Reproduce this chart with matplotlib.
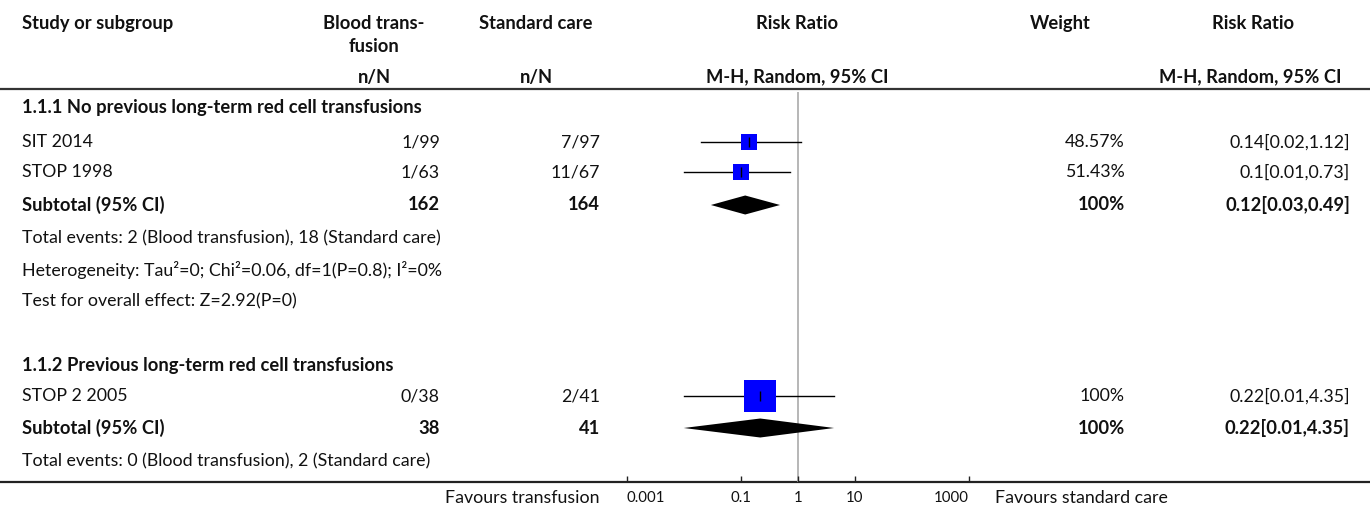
import matplotlib
matplotlib.use("Agg")
import matplotlib.pyplot as plt
from matplotlib.ticker import FixedLocator, FixedFormatter, NullLocator

plt.rcParams['font.family'] = ['Lato', 'DejaVu Sans']

# ---------------- data ----------------
group_titles = ["1.1.1 No previous long-term red cell transfusions",
                "1.1.2 Previous long-term red cell transfusions"]
studies = ["SIT 2014", "STOP 1998", "STOP 2 2005"]
bt_events = [1, 1, 0]
bt_total = [99, 63, 38]
sc_events = [7, 11, 2]
sc_total = [97, 67, 41]
rr = [0.14, 0.1, 0.22]
rr_lo = [0.02, 0.01, 0.01]
rr_hi = [1.12, 0.73, 4.35]
weights = [48.57, 51.43, 100]

sub_bt_total = [162, 38]
sub_sc_total = [164, 41]
sub_weight = [100, 100]
sub_rr = [0.12, 0.22]
sub_lo = [0.03, 0.01]
sub_hi = [0.49, 4.35]

group_notes = [
    ["Total events: 2 (Blood transfusion), 18 (Standard care)",
     "Heterogeneity: Tau\u00b2=0; Chi\u00b2=0.06, df=1(P=0.8); I\u00b2=0%",
     "Test for overall effect: Z=2.92(P=0)"],
    ["Total events: 0 (Blood transfusion), 2 (Standard care)"],
]

tick_values = [0.001, 0.1, 1, 10, 1000]
tick_labels = ["0.001", "0.1", "1", "10", "1000"]
x_min, x_max = 0.001, 1000

# ---------------- layout (pixels) ----------------
W, H = 1370, 509
FS = 12.8
FSB = 13.2
TXT = '#111111'
study_y = [142, 172, 396]
sub_y = [205, 428]
title_y = [107, 365]
notes_y = [[238, 270, 301], [461]]

fig = plt.figure(figsize=(W / 100, H / 100), dpi=100)
ax = fig.add_axes([0, 0, 1, 1])
ax.set_xlim(0, W)
ax.set_ylim(H, 0)
ax.axis('off')

axis_y = 481.7
top_y = 92
xl, xr = 626.7, 968.7
fx = fig.add_axes([xl / W, (H - axis_y) / H, (xr - xl) / W, (axis_y - top_y) / H])
fx.set_xscale('log')
fx.set_xlim(x_min, x_max)
fx.set_ylim(axis_y, top_y)
fx.patch.set_alpha(0)
for s in fx.spines.values():
    s.set_visible(False)
fx.yaxis.set_visible(False)
fx.xaxis.set_major_locator(FixedLocator(tick_values))
fx.xaxis.set_major_formatter(FixedFormatter(tick_labels))
fx.xaxis.set_minor_locator(NullLocator())
fx.tick_params(axis='x', direction='in', length=4.5, width=1, color='#222222',
               labelsize=10.8, pad=7, labelcolor=TXT)
fig.canvas.draw()
tls = fx.get_xticklabels()
tls[0].set_horizontalalignment('left')
tls[-1].set_horizontalalignment('right')

# header
def t(x, y, s, ha='left', bold=False):
    ax.text(x, y, s, ha=ha, va='center', fontsize=FSB if bold else FS, color=TXT,
            fontweight='bold' if bold else 'normal')

t(22, 23, "Study or subgroup", bold=True)
t(374, 23, "Blood trans-", ha='center', bold=True)
t(374, 46, "fusion", ha='center', bold=True)
t(374, 77, "n/N", ha='center', bold=True)
t(536, 23, "Standard care", ha='center', bold=True)
t(536, 77, "n/N", ha='center', bold=True)
t(797.5, 23, "Risk Ratio", ha='center', bold=True)
t(797.5, 77, "M-H, Random, 95% CI", ha='center', bold=True)
t(1060, 23, "Weight", ha='center', bold=True)
t(1253, 23, "Risk Ratio", ha='center', bold=True)
t(1342, 77, "M-H, Random, 95% CI", ha='right', bold=True)

ax.plot([0, W], [89, 89], color='#333333', lw=1.6, solid_capstyle='butt')
ax.plot([0, W], [axis_y, axis_y], color='#222222', lw=1.6, solid_capstyle='butt')

# reference line
fx.axvline(1, color='#aaaaaa', lw=1.2, zorder=1)

# group titles and notes
for g, title in enumerate(group_titles):
    t(22, title_y[g], title, bold=True)
    for note, ny in zip(group_notes[g], notes_y[g]):
        t(22, ny, note)

# studies
for i, name in enumerate(studies):
    y = study_y[i]
    t(22, y, name)
    t(440, y, f"{bt_events[i]}/{bt_total[i]}", ha='right')
    t(600, y, f"{sc_events[i]}/{sc_total[i]}", ha='right')
    t(1125, y, f"{weights[i]:g}%", ha='right')
    t(1350, y, f"{rr[i]:g}[{rr_lo[i]:g},{rr_hi[i]:g}]", ha='right')
    fx.plot([rr_lo[i], rr_hi[i]], [y, y], color='black', lw=1.0, zorder=3)
    side_px = 0.32 * weights[i]
    fx.plot([rr[i]], [y], marker='s', markersize=side_px * 0.72, color='#0000ff',
            markeredgewidth=0, linestyle='none', zorder=4)
    fx.plot([rr[i]], [y], marker='|', markersize=6.5, color='black',
            markeredgewidth=1.0, linestyle='none', zorder=5)

# subtotals
for g in range(len(sub_rr)):
    y = sub_y[g]
    t(22, y, "Subtotal (95% CI)", bold=True)
    t(440, y, f"{sub_bt_total[g]}", ha='right', bold=True)
    t(600, y, f"{sub_sc_total[g]}", ha='right', bold=True)
    t(1125, y, f"{sub_weight[g]:g}%", ha='right', bold=True)
    t(1350, y, f"{sub_rr[g]:g}[{sub_lo[g]:g},{sub_hi[g]:g}]", ha='right', bold=True)
    hh = 9.5
    fx.fill([sub_lo[g], sub_rr[g], sub_hi[g], sub_rr[g]],
            [y, y - hh, y, y + hh], color='black', lw=0, zorder=4)

t(600, 498, "Favours transfusion", ha='right')
t(995, 498, "Favours standard care")

fig.savefig("out.png", dpi=100)
